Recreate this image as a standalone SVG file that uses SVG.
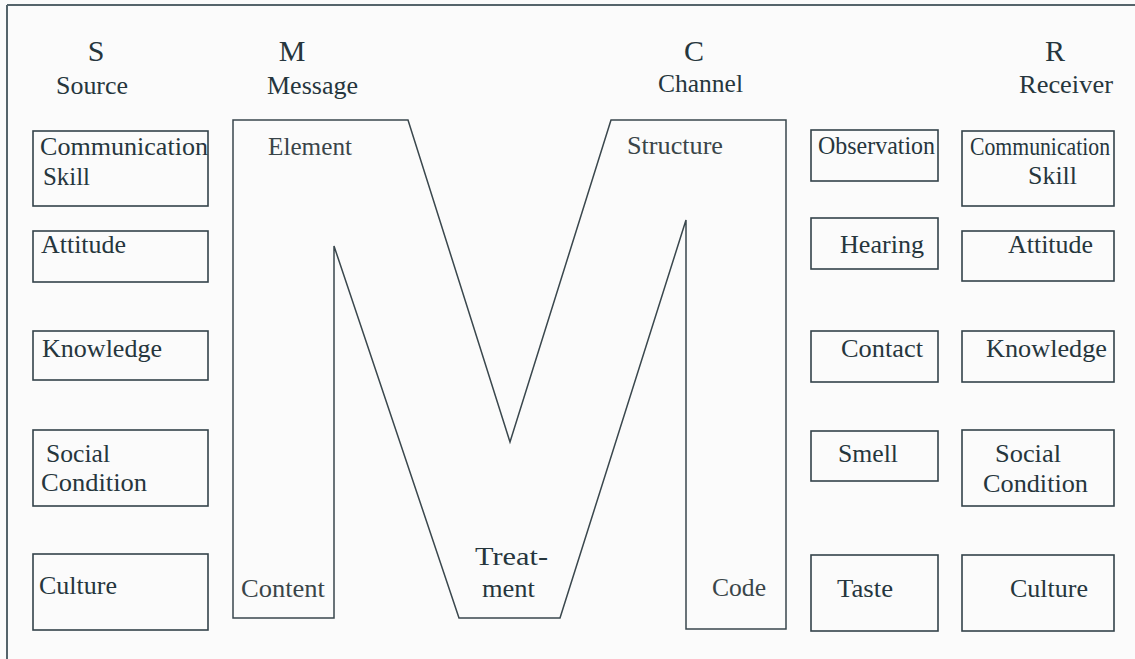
<svg xmlns="http://www.w3.org/2000/svg" width="1135" height="659" viewBox="0 0 1135 659">
  <style>
    .frame { stroke: #55646b; stroke-width: 2; fill: none; }
    .box { fill: none; stroke: #34434a; stroke-width: 1.6; }
    .mshape { fill: none; stroke: #3a474d; stroke-width: 1.5; stroke-linejoin: miter; }
    text { font-family: "Liberation Serif", "Times New Roman", serif; fill: #26363d; font-size: 25px; }
    .big { font-size: 30px; text-anchor: middle; }
    .head { font-size: 25px; }
    .soft { fill: #3a4549; }
  </style>
  <rect x="0" y="0" width="1135" height="659" fill="#fbfbfb"/>

  <!-- outer frame: top rule and left rule -->
  <g id="frame">
    <line class="frame" x1="7" y1="5" x2="1135" y2="5"/>
    <line class="frame" x1="7" y1="5" x2="7" y2="659"/>
  </g>

  <!-- column headings -->
  <g id="head-source">
    <text class="big" x="96" y="61">S</text>
    <text class="head" x="56" y="94" textLength="72" lengthAdjust="spacingAndGlyphs">Source</text>
  </g>
  <g id="head-message">
    <text class="big" x="292" y="61">M</text>
    <text class="head" x="267" y="94" textLength="91" lengthAdjust="spacingAndGlyphs">Message</text>
  </g>
  <g id="head-channel">
    <text class="big" x="694" y="61">C</text>
    <text class="head" x="658" y="92" textLength="85" lengthAdjust="spacingAndGlyphs">Channel</text>
  </g>
  <g id="head-receiver">
    <text class="big" x="1055" y="61">R</text>
    <text class="head" x="1019" y="93" textLength="94" lengthAdjust="spacingAndGlyphs">Receiver</text>
  </g>

  <!-- Message: the large M outline -->
  <g id="message-m">
    <polygon class="mshape" points="233,120 408,120 510,442 611,120 786,120 786,629 686,629 686,220 560,618 459,618 334,246 334,618 233,618"/>
    <text class="soft" x="268" y="155" textLength="84" lengthAdjust="spacingAndGlyphs">Element</text>
    <text class="soft" x="627" y="154" textLength="96" lengthAdjust="spacingAndGlyphs">Structure</text>
    <text class="soft" x="241" y="597" textLength="84" lengthAdjust="spacingAndGlyphs">Content</text>
    <text x="475" y="565" font-size="28" textLength="73" lengthAdjust="spacingAndGlyphs">Treat-</text>
    <text x="482" y="597" textLength="53" lengthAdjust="spacingAndGlyphs">ment</text>
    <text class="soft" x="712" y="596" textLength="54" lengthAdjust="spacingAndGlyphs">Code</text>
  </g>

  <!-- Source column -->
  <g id="src-communication-skill">
    <rect class="box" x="33" y="131" width="175" height="75"/>
    <text x="40" y="155" textLength="168" lengthAdjust="spacingAndGlyphs">Communication</text>
    <text x="43" y="185" textLength="47" lengthAdjust="spacingAndGlyphs">Skill</text>
  </g>
  <g id="src-attitude">
    <rect class="box" x="33" y="231" width="175" height="51"/>
    <text x="41" y="253" textLength="85" lengthAdjust="spacingAndGlyphs">Attitude</text>
  </g>
  <g id="src-knowledge">
    <rect class="box" x="33" y="331" width="175" height="49"/>
    <text x="42" y="357" textLength="120" lengthAdjust="spacingAndGlyphs">Knowledge</text>
  </g>
  <g id="src-social-condition">
    <rect class="box" x="33" y="430" width="175" height="76"/>
    <text x="46" y="462" textLength="64" lengthAdjust="spacingAndGlyphs">Social</text>
    <text x="41" y="491" textLength="106" lengthAdjust="spacingAndGlyphs">Condition</text>
  </g>
  <g id="src-culture">
    <rect class="box" x="33" y="554" width="175" height="76"/>
    <text x="39" y="594" textLength="78" lengthAdjust="spacingAndGlyphs">Culture</text>
  </g>

  <!-- Channel column -->
  <g id="ch-observation">
    <rect class="box" x="811" y="130" width="127" height="51"/>
    <text x="818" y="154" textLength="117" lengthAdjust="spacingAndGlyphs">Observation</text>
  </g>
  <g id="ch-hearing">
    <rect class="box" x="811" y="218" width="127" height="51"/>
    <text x="840" y="253" textLength="84" lengthAdjust="spacingAndGlyphs">Hearing</text>
  </g>
  <g id="ch-contact">
    <rect class="box" x="811" y="331" width="127" height="51"/>
    <text x="841" y="357" textLength="82" lengthAdjust="spacingAndGlyphs">Contact</text>
  </g>
  <g id="ch-smell">
    <rect class="box" x="811" y="431" width="127" height="50"/>
    <text x="838" y="462" textLength="60" lengthAdjust="spacingAndGlyphs">Smell</text>
  </g>
  <g id="ch-taste">
    <rect class="box" x="811" y="555" width="127" height="76"/>
    <text x="837" y="597" textLength="56" lengthAdjust="spacingAndGlyphs">Taste</text>
  </g>

  <!-- Receiver column -->
  <g id="rcv-communication-skill">
    <rect class="box" x="962" y="131" width="152" height="75"/>
    <text x="970" y="155" font-size="21" textLength="140" lengthAdjust="spacingAndGlyphs">Communication</text>
    <text x="1028" y="184" textLength="49" lengthAdjust="spacingAndGlyphs">Skill</text>
  </g>
  <g id="rcv-attitude">
    <rect class="box" x="962" y="231" width="152" height="50"/>
    <text x="1008" y="253" textLength="85" lengthAdjust="spacingAndGlyphs">Attitude</text>
  </g>
  <g id="rcv-knowledge">
    <rect class="box" x="962" y="331" width="152" height="51"/>
    <text x="986" y="357" textLength="121" lengthAdjust="spacingAndGlyphs">Knowledge</text>
  </g>
  <g id="rcv-social-condition">
    <rect class="box" x="962" y="430" width="152" height="76"/>
    <text x="995" y="462" textLength="66" lengthAdjust="spacingAndGlyphs">Social</text>
    <text x="983" y="492" textLength="105" lengthAdjust="spacingAndGlyphs">Condition</text>
  </g>
  <g id="rcv-culture">
    <rect class="box" x="962" y="555" width="152" height="76"/>
    <text x="1010" y="597" textLength="78" lengthAdjust="spacingAndGlyphs">Culture</text>
  </g>

  <!-- no connectors in this figure -->
  <g id="connectors"/>
</svg>
